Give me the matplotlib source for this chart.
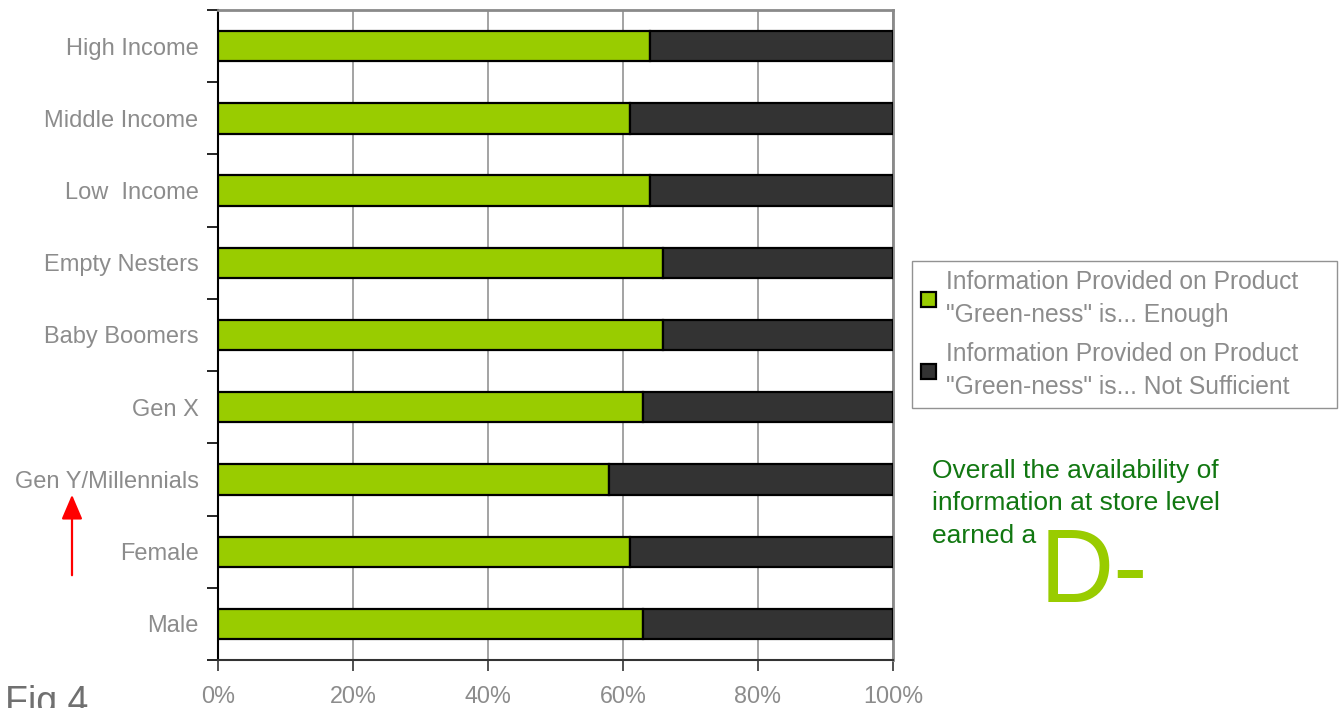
import matplotlib
matplotlib.use("Agg")
import matplotlib.pyplot as plt
import numpy as np
from matplotlib.ticker import FixedLocator, FuncFormatter
from matplotlib.patches import FancyArrowPatch

plt.rcParams['font.family'] = ['Liberation Sans', 'DejaVu Sans']

# Segments listed bottom to top
categories = ["Male", "Female", "Gen Y/Millennials", "Gen X", "Baby Boomers",
              "Empty Nesters", "Low  Income", "Middle Income", "High Income"]
enough_pct = [63, 61, 58, 63, 66, 66, 64, 61, 64]
not_sufficient_pct = [100 - v for v in enough_pct]
x_ticks = [0, 20, 40, 60, 80, 100]

series_labels = ['Information Provided on Product\n"Green-ness" is... Enough',
                 'Information Provided on Product\n"Green-ness" is... Not Sufficient']

note_lines = ["Overall the availability of", "information at store level", "earned a"]
grade = "D-"

GREEN = "#99CC00"
DARK = "#333333"
GRAY_TEXT = "#8c8c8c"

fig = plt.figure(figsize=(13.4, 7.08), dpi=100)
ax = fig.add_axes([218 / 1340, 48 / 708, 675 / 1340, 650 / 708])

y = np.arange(len(categories))
h = 0.42
b1 = ax.barh(y, enough_pct, height=h, color=GREEN, edgecolor="black", linewidth=1.6,
             label=series_labels[0], zorder=3)
b2 = ax.barh(y, not_sufficient_pct, left=enough_pct, height=h, color=DARK,
             edgecolor="black", linewidth=1.6, label=series_labels[1], zorder=3)

ax.set_xlim(0, 100)
ax.set_ylim(-0.5, len(categories) - 0.5)

# x axis
ax.set_xticks(x_ticks)
ax.xaxis.set_major_formatter(FuncFormatter(lambda v, p: f"{int(v)}%"))
ax.tick_params(axis="x", direction="out", length=8, width=1.2, color="#333333",
               labelsize=16.8, labelcolor=GRAY_TEXT, pad=10)
ax.xaxis.grid(True, color="#8a8a8a", linewidth=1.1, zorder=0)

# y axis: tick marks at category boundaries, labels at centers
ax.yaxis.set_major_locator(FixedLocator(np.arange(-0.5, len(categories), 1.0)))
ax.yaxis.set_major_formatter(FuncFormatter(lambda v, p: ""))
ax.yaxis.set_minor_locator(FixedLocator(y))
ax.set_yticklabels(categories, minor=True)
ax.tick_params(axis="y", which="major", direction="out", length=8, width=1.2, color="black")
ax.tick_params(axis="y", which="minor", length=0, pad=14, labelsize=17, labelcolor=GRAY_TEXT)

for side in ("top", "right"):
    ax.spines[side].set_color("#8a8a8a")
    ax.spines[side].set_linewidth(2)
ax.spines["left"].set_color("black")
ax.spines["left"].set_linewidth(1.5)
ax.spines["bottom"].set_color("#333333")
ax.spines["bottom"].set_linewidth(1.5)

leg = fig.legend(handles=[b1, b2], loc="upper left", mode="expand",
                 bbox_to_anchor=(912 / 1340, 0, 425 / 1340, 1 - 261 / 708),
                 fontsize=17.7, frameon=True, fancybox=False, edgecolor="#777777",
                 handlelength=0.6, handleheight=0.6, handletextpad=0.4,
                 labelspacing=0.62, borderpad=0.38, borderaxespad=0.0)
leg.get_frame().set_linewidth(1.0)
for t in leg.get_texts():
    t.set_color(GRAY_TEXT)
    t.set_linespacing(1.46)

# note lines, one baseline each
for i, line in enumerate(note_lines):
    fig.text(932 / 1340, 1 - (478 + 32.5 * i) / 708, line,
             fontsize=19, color="#117711", va="baseline", ha="left")
fig.text(1040 / 1340, 1 - 602 / 708, grade, fontsize=74, color=GREEN,
         va="baseline", ha="left")

fig.text(5 / 1340, 1 - 713 / 708, "Fig 4", fontsize=27, color="#707070",
         va="baseline", ha="left")

# red arrow pointing at the Gen Y/Millennials label
fig.add_artist(FancyArrowPatch(
    (72 / 1340, 1 - 578 / 708), (72 / 1340, 1 - 492 / 708),
    transform=fig.transFigure, arrowstyle="-|>,head_length=7.5,head_width=3.2",
    color="red", linewidth=1.6, mutation_scale=2.0))

fig.savefig("out.png", dpi=100)
